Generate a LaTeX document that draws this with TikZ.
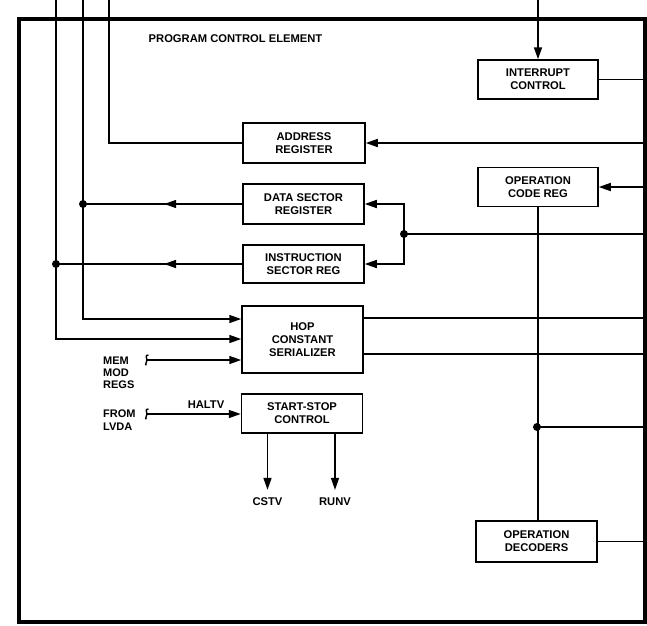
\documentclass[tikz,border=0pt]{standalone}
\usepackage{fontspec}
\setmainfont{Liberation Sans}
\usetikzlibrary{arrows.meta,decorations.markings,calc}
\begin{document}
\begin{tikzpicture}[x=1pt,y=-1pt,
  txt/.style={font=\fontsize{11.2}{13.2}\selectfont\bfseries, align=center, inner sep=0pt},
  sidetxt/.style={font=\fontsize{11}{12.3}\selectfont\bfseries, align=left, inner sep=0pt},
  blk/.style={draw, line width=1.5pt, txt, minimum width=121pt},
  wire/.style={line width=1.5pt},
  tip/.style={-{Triangle[length=12pt,width=8pt]}},
  midtip/.style={postaction={decorate},
    decoration={markings, mark=at position #1 with {\arrow{Triangle[length=12pt,width=8pt]}}}},
  jdot/.style={fill, circle, inner sep=0pt, minimum size=8pt},
  brk/.style={line width=1.4pt}]

\useasboundingbox (0,0) rectangle (647,625);

% enclosing element frame
\draw[line width=4pt] (19,19) rectangle (645,622);
\node[txt] (title) at (235.5,39) {PROGRAM CONTROL ELEMENT};

% blocks
\node[blk, minimum width=120pt, minimum height=39pt] (intr) at (538,79.5) {INTERRUPT\\CONTROL};
\node[blk, minimum width=122pt, minimum height=40pt] (addr) at (304,143) {ADDRESS\\REGISTER};
\node[blk, minimum height=40pt] (dsr) at (303.5,204) {DATA SECTOR\\REGISTER};
\node[blk, minimum height=38pt] (isr) at (303.5,264) {INSTRUCTION\\SECTOR REG};
\node[blk, minimum height=67pt] (hop) at (302.5,339.5) {HOP\\CONSTANT\\SERIALIZER};
\node[blk, minimum height=39pt] (ss) at (302,413.5) {START-STOP\\CONTROL};
\node[blk, minimum width=120pt, minimum height=39pt] (ocr) at (538,187) {OPERATION\\CODE REG};
\node[blk, minimum height=41pt] (odec) at (536.5,541.5) {OPERATION\\DECODERS};

% side labels
\node[sidetxt, anchor=west] (mem) at (103,372.7) {MEM\\MOD\\REGS};
\node[sidetxt, anchor=west] (lvda) at (103,420) {FROM\\LVDA};
\node[txt] (haltv) at (206,405) {HALTV};
\node[txt] (cstv) at (267.5,502) {CSTV};
\node[txt] (runv) at (335,502) {RUNV};

% reference points
\coordinate (topA) at (56,0);
\coordinate (topB) at (83,0);
\coordinate (topC) at (109,0);
\coordinate (topI) at (538,0);
\coordinate (R) at (645,0);
\coordinate (jd) at (83,204);
\coordinate (ji) at (56,264);
\coordinate (jr) at (404,234);
\coordinate (jo) at (537,427);
\coordinate (h1) at (0,319);
\coordinate (h2) at (0,339);
\coordinate (h3) at (0,360);
\coordinate (o1) at (0,318);
\coordinate (o2) at (0,354);
\coordinate (sqm) at (147,360);
\coordinate (sql) at (147,414);

% buses leaving through the top
\draw[wire] (addr.west) -| (topC);
\draw[wire, tip] (topB) |- (hop.west |- h1);
\draw[wire, tip] (topA) |- (hop.west |- h2);
\draw[wire, midtip=0.49] (dsr.west) -- (jd);
\draw[wire, midtip=0.42] (isr.west) -- (ji);
\node[jdot] at (jd) {};
\node[jdot] at (ji) {};

% external inputs on the left, with break marks
\draw[brk] ($(sqm)+(1.5,-5)$) .. controls ($(sqm)+(-2.5,-5)$) and ($(sqm)+(0,-2)$) .. (sqm)
  .. controls ($(sqm)+(0,2)$) and ($(sqm)+(-2.5,5)$) .. ($(sqm)+(-0.5,5)$);
\draw[wire, tip] (sqm) -- (hop.west |- h3);
\draw[brk] ($(sql)+(1.5,-5)$) .. controls ($(sql)+(-2.5,-5)$) and ($(sql)+(0,-2)$) .. (sql)
  .. controls ($(sql)+(0,2)$) and ($(sql)+(-2.5,5)$) .. ($(sql)+(-0.5,5)$);
\draw[wire, tip] (sql) -- (ss.west |- sql);

% start-stop outputs
\draw[wire, tip, shorten >=8pt] (ss.south -| cstv) -- (cstv.north);
\draw[wire, tip, shorten >=8pt] (ss.south -| runv) -- (runv.north);

% right side connections
\draw[wire, tip] (topI) -- (intr.north);
\draw[wire] (intr.east) -- (R |- intr.east);
\draw[wire, tip] (R |- addr.east) -- (addr.east);
\draw[wire, tip] (R |- ocr.east) -- (ocr.east);
\draw[wire] (R |- jr) -- (jr);
\draw[wire, tip] (jr) |- (dsr.east);
\draw[wire, tip] (jr) |- (isr.east);
\node[jdot] at (jr) {};
\draw[wire] (hop.east |- o1) -- (R |- o1);
\draw[wire] (hop.east |- o2) -- (R |- o2);
\draw[wire] (ocr.south) -- (ocr.south |- odec.north);
\draw[wire] (jo) -- (R |- jo);
\node[jdot] at (jo) {};
\draw[wire] (odec.east) -- (R |- odec.east);

\end{tikzpicture}
\end{document}
